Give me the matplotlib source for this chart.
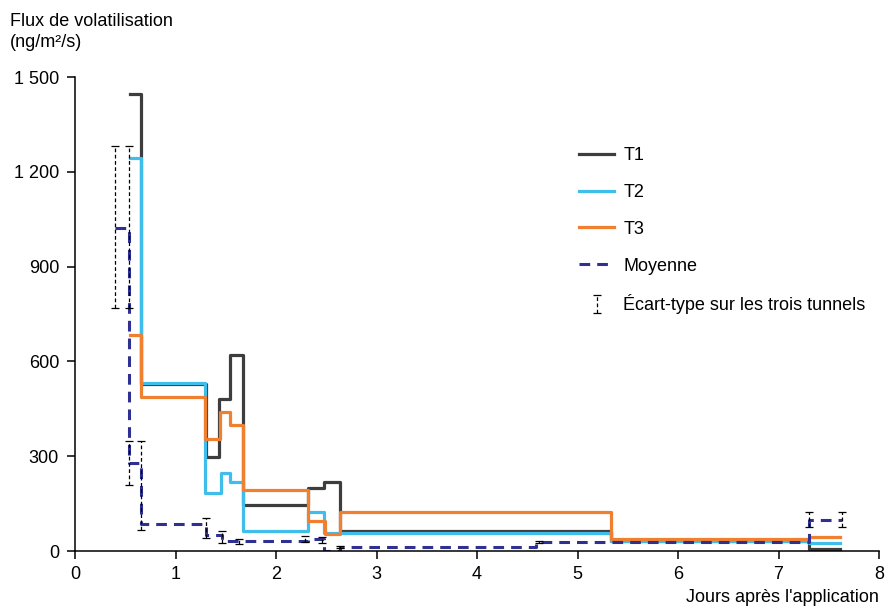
import numpy as np
import matplotlib
matplotlib.use("Agg")
import matplotlib.pyplot as plt

plt.rcParams['font.family'] = ['Liberation Sans', 'DejaVu Sans']

# step series (x in days, value holds until next x)
t1_x = [0.55, 0.66, 1.30, 1.43, 1.54, 1.675, 2.32, 2.48, 2.64, 5.33, 7.30, 7.61]
t1_y = [1445, 530, 298, 481, 620, 146, 200, 219, 64, 33, 6, 6]

t2_x = [0.55, 0.66, 1.29, 1.45, 1.54, 1.67, 2.32, 2.48, 5.33, 7.30, 7.61]
t2_y = [1245, 533, 183, 248, 219, 64, 122, 56, 33, 24, 24]

t3_x = [0.55, 0.66, 1.29, 1.44, 1.54, 1.675, 2.32, 2.49, 2.64, 5.33, 7.30, 7.61]
t3_y = [683, 487, 353, 441, 399, 193, 95, 53, 122, 39, 43, 43]

moy_x = [0.40, 0.54, 0.654, 1.30, 1.466, 2.32, 2.48, 2.64, 4.59, 7.30, 7.63]
moy_y = [1023, 280, 85, 51, 33, 38, 0, 13, 28, 98, 98]

# standard deviation bars (lower / upper ends)
eb_x = [0.40, 0.54, 0.54, 0.654, 1.30, 1.466, 1.635, 2.29, 2.46, 2.64, 4.62, 7.306, 7.63]
eb_lo = [768, 768, 209, 66, 40, 26, 22, 29, 24, 10, 24, 77, 77]
eb_hi = [1282, 1282, 349, 349, 103, 63, 38, 47, 45, 17, 31, 124, 124]

yticks = [0, 300, 600, 900, 1200, 1500]
ytick_labels = ['0', '300', '600', '900', '1 200', '1 500']

fs = 13

fig = plt.figure(figsize=(8.86, 6.09), dpi=100)
ax = fig.add_axes([75/886, 1 - 551/609, (879 - 75)/886, (551 - 77)/609])

ax.plot(t1_x, t1_y, drawstyle='steps-post', color='#3d3d3d', lw=2.3, label='T1')
ax.plot(t2_x, t2_y, drawstyle='steps-post', color='#3fbdeb', lw=2.3, label='T2')
ax.plot(t3_x, t3_y, drawstyle='steps-post', color='#f07f2f', lw=2.3, label='T3')
ax.plot(moy_x, moy_y, drawstyle='steps-post', color='#2e3192', lw=2.2,
        linestyle=(0, (3.5, 2.3)), label='Moyenne')

mid = (np.array(eb_lo) + np.array(eb_hi)) / 2
err = [mid - np.array(eb_lo), np.array(eb_hi) - mid]
eb = ax.errorbar(eb_x, mid, yerr=err, fmt='none', ecolor='black', elinewidth=0.9,
                 capsize=3, capthick=0.9, label='Écart-type sur les trois tunnels')
eb[2][0].set_linestyle((0, (3, 2)))

ax.set_xlim(0, 8)
ax.set_ylim(0, 1500)
ax.set_xticks(range(9))
ax.set_yticks(yticks)
ax.set_yticklabels(ytick_labels)
for s in ['top', 'right']:
    ax.spines[s].set_visible(False)
for s in ['left', 'bottom']:
    ax.spines[s].set_linewidth(1.1)
ax.tick_params(axis='both', direction='out', length=5.5, width=1.1, labelsize=fs,
               colors='black')
ax.tick_params(axis='y', pad=6)
ax.tick_params(axis='x', pad=5)

fig.text(10/886, 1 - 13/609, 'Flux de volatilisation\n(ng/m²/s)', ha='left', va='top',
         fontsize=fs, linespacing=1.3)
fig.text(879/886, 1 - 597/609, "Jours après l'application", ha='right', va='center',
         fontsize=fs)

leg = ax.legend(loc='upper left', bbox_to_anchor=(570/886, 1 - 138/609),
                bbox_transform=fig.transFigure, frameon=False, fontsize=fs,
                handlelength=1.95, handletextpad=0.5, labelspacing=1.1, borderpad=0)

fig.savefig('out.png', dpi=100)
